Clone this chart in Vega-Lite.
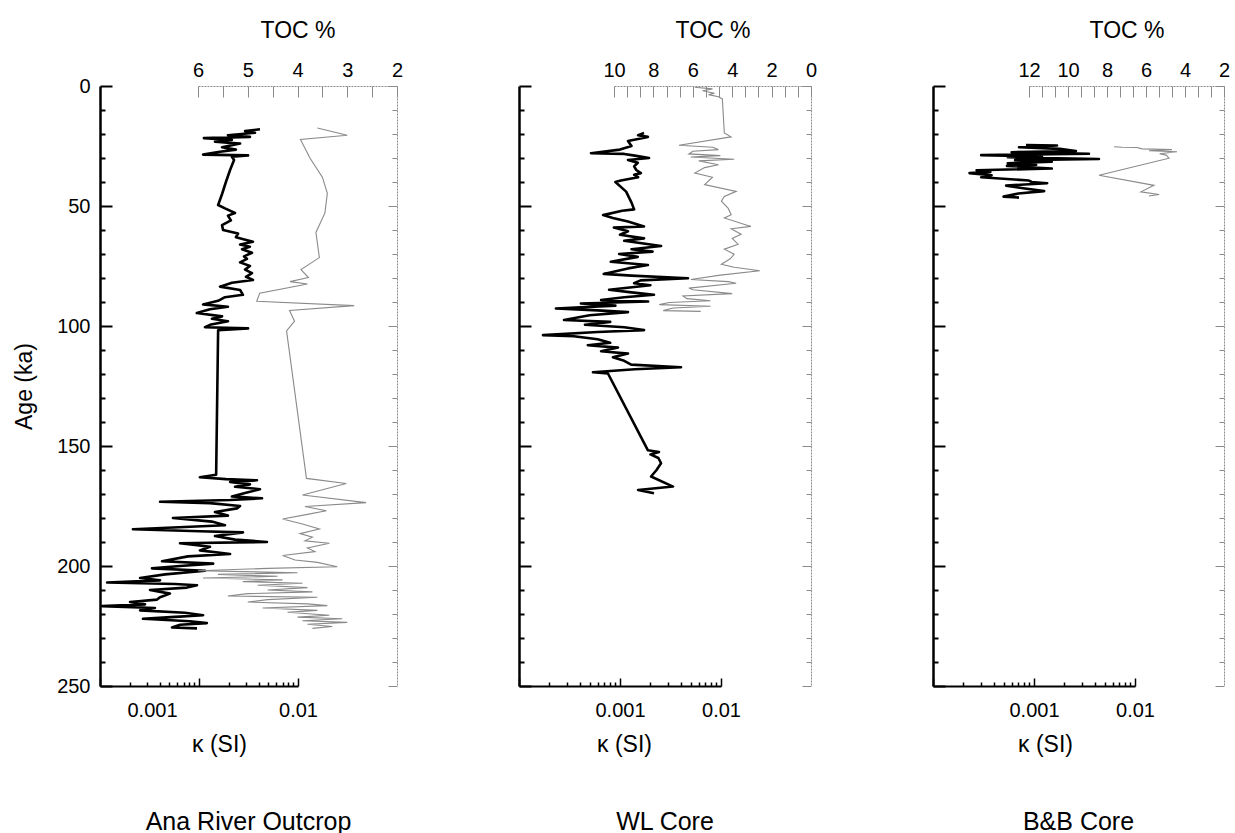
{
  "$schema": "https://vega.github.io/schema/vega-lite/v6.json",
  "background": "white",
  "autosize": {"type": "none"},
  "padding": {"left": 100, "top": 86, "right": 1135, "bottom": 747},
  "config": {
    "font": "Liberation Sans",
    "view": {"stroke": null},
    "axis": {"grid": false, "labelFont": "Liberation Sans", "titleFont": "Liberation Sans", "labelColor": "black", "titleColor": "black", "titleFontWeight": "normal", "labelFontSize": 20, "titleFontSize": 23, "labelFlush": false, "labelOverlap": false},
    "title": {"font": "Liberation Sans", "fontWeight": "normal", "fontSize": 25, "color": "black"}
  },
  "datasets": {
    "ana_k": [
      {"age":18.0,"kappa":0.00413},{"age":18.8,"kappa":0.00292},{"age":19.5,"kappa":0.00368},{"age":20.5,"kappa":0.00196},{"age":21.2,"kappa":0.00327},{"age":21.7,"kappa":0.00112},{"age":22.5,"kappa":0.00215},{"age":23.2,"kappa":0.00145},{"age":24.0,"kappa":0.0026},{"age":25.5,"kappa":0.00171},{"age":26.5,"kappa":0.00236},{"age":27.5,"kappa":0.00156},{"age":28.6,"kappa":0.0011},{"age":28.9,"kappa":0.00313},{"age":29.5,"kappa":0.00215},{"age":30.8,"kappa":0.00226},
      {"age":35,"kappa":0.00206},{"age":40,"kappa":0.00187},{"age":45,"kappa":0.00171},{"age":49.6,"kappa":0.00156},{"age":51,"kappa":0.00183},{"age":52.9,"kappa":0.00231},{"age":54,"kappa":0.00196},{"age":56,"kappa":0.0021},{"age":58,"kappa":0.00171},{"age":60,"kappa":0.00175},{"age":61.5,"kappa":0.00248},{"age":63,"kappa":0.00236},{"age":64.9,"kappa":0.00351},{"age":66,"kappa":0.0026},{"age":67,"kappa":0.00327},{"age":68,"kappa":0.00272},{"age":69.5,"kappa":0.00343},{"age":71,"kappa":0.00285},{"age":72,"kappa":0.00305},{"age":73.5,"kappa":0.0026},{"age":75,"kappa":0.00327},{"age":76.5,"kappa":0.00292},{"age":78,"kappa":0.00343},{"age":79.5,"kappa":0.00298},{"age":80.8,"kappa":0.00351},
      {"age":82,"kappa":0.00215},{"age":83.6,"kappa":0.00163},{"age":85,"kappa":0.0026},{"age":87,"kappa":0.00278},{"age":88,"kappa":0.00183},{"age":89.5,"kappa":0.00156},{"age":91,"kappa":0.0011},{"age":92,"kappa":0.00196},{"age":93,"kappa":0.00129},{"age":94.6,"kappa":0.00095},{"age":96,"kappa":0.00171},{"age":97,"kappa":0.00135},{"age":98,"kappa":0.00196},{"age":99.5,"kappa":0.00129},{"age":100.5,"kappa":0.00115},{"age":101,"kappa":0.00313},{"age":101.8,"kappa":0.00156},
      {"age":162,"kappa":0.00149},{"age":163,"kappa":0.00102},{"age":163.8,"kappa":0.00187},{"age":164.3,"kappa":0.00385},{"age":165,"kappa":0.00206},{"age":166,"kappa":0.00327},{"age":167,"kappa":0.00231},{"age":168,"kappa":0.00413},{"age":169.6,"kappa":0.00292},{"age":171,"kappa":0.00215},{"age":171.8,"kappa":0.00433},{"age":172.5,"kappa":0.00206},{"age":173.2,"kappa":0.000404},{"age":173.8,"kappa":0.00129},{"age":175,"kappa":0.0026},{"age":176,"kappa":0.00242},{"age":177.5,"kappa":0.00145},{"age":179,"kappa":0.00196},{"age":180,"kappa":0.000546},{"age":181.5,"kappa":0.00135},{"age":183,"kappa":0.00183},{"age":184.7,"kappa":0.000215},{"age":185.5,"kappa":0.00102},{"age":186,"kappa":0.00278},{"age":187.5,"kappa":0.00145},{"age":189,"kappa":0.00231},{"age":190,"kappa":0.00486},{"age":190.5,"kappa":0.000643},{"age":192,"kappa":0.00129},{"age":193.5,"kappa":0.00102},{"age":195,"kappa":0.00206},{"age":196,"kappa":0.000774},{"age":198,"kappa":0.000423},{"age":199,"kappa":0.00139},{"age":200,"kappa":0.000643},{"age":201,"kappa":0.000335},{"age":202,"kappa":0.00115},{"age":203.5,"kappa":0.000454},{"age":205,"kappa":0.000254},{"age":206,"kappa":0.000404},{"age":206.9,"kappa":0.000118},{"age":207.5,"kappa":0.000572},{"age":208,"kappa":0.000955},{"age":209,"kappa":0.000756},{"age":210,"kappa":0.00032},{"age":211.5,"kappa":0.000509},{"age":213,"kappa":0.000404},{"age":214,"kappa":0.000377},{"age":215,"kappa":0.000201},{"age":216,"kappa":0.000285},{"age":216.7,"kappa":0.000105},{"age":217.5,"kappa":0.000359},{"age":218.5,"kappa":0.000254},{"age":219.5,"kappa":0.000722},{"age":220.5,"kappa":0.0011},{"age":221.2,"kappa":0.000572},{"age":222,"kappa":0.000272},{"age":223,"kappa":0.000811},{"age":223.8,"kappa":0.0012},{"age":224.5,"kappa":0.000643},{"age":225.6,"kappa":0.000534},{"age":226,"kappa":0.000955}
    ],
    "ana_toc": [
      {"age":17.5,"toc":3.6},{"age":20.5,"toc":3.0},{"age":22.3,"toc":3.94},{"age":30,"toc":3.75},{"age":38,"toc":3.5},{"age":44.7,"toc":3.4},{"age":53,"toc":3.45},{"age":61,"toc":3.63},{"age":71.5,"toc":3.56},{"age":76.5,"toc":3.93},{"age":79.8,"toc":3.78},{"age":81.5,"toc":4.15},{"age":82.5,"toc":3.8},{"age":86.3,"toc":4.76},{"age":89.7,"toc":4.82},{"age":91.5,"toc":2.86},{"age":93.5,"toc":4.16},{"age":98,"toc":4.06},{"age":102,"toc":4.22},
      {"age":163.5,"toc":3.82},{"age":165.6,"toc":3.02},{"age":170.4,"toc":3.9},{"age":173.6,"toc":2.62},{"age":175.2,"toc":3.85},{"age":177,"toc":3.42},{"age":178.5,"toc":3.8},{"age":180.4,"toc":4.3},{"age":182.5,"toc":3.9},{"age":184.6,"toc":3.56},{"age":186.5,"toc":3.95},{"age":188,"toc":3.7},{"age":189.5,"toc":3.85},{"age":190.5,"toc":3.36},{"age":192.5,"toc":3.8},{"age":194,"toc":3.65},{"age":195.6,"toc":4.3},{"age":197.5,"toc":4.05},{"age":198.5,"toc":3.6},{"age":200.3,"toc":3.2},{"age":201,"toc":4.6},{"age":202,"toc":6.0},{"age":202.8,"toc":4.0},{"age":203.5,"toc":5.6},{"age":204.3,"toc":4.4},{"age":205,"toc":5.9},{"age":205.8,"toc":4.3},{"age":206.5,"toc":5.1},{"age":207.2,"toc":3.9},{"age":208,"toc":4.8},{"age":209,"toc":3.8},{"age":210,"toc":4.6},{"age":210.8,"toc":3.7},{"age":211.5,"toc":5.0},{"age":212.5,"toc":5.4},{"age":213,"toc":3.6},{"age":214,"toc":4.6},{"age":215,"toc":5.0},{"age":215.8,"toc":3.8},{"age":216.5,"toc":3.4},{"age":217.5,"toc":4.7},{"age":218.5,"toc":3.6},{"age":219.3,"toc":4.2},{"age":220.5,"toc":3.36},{"age":221.3,"toc":4.0},{"age":222,"toc":3.1},{"age":222.8,"toc":3.9},{"age":223.5,"toc":3.0},{"age":224.3,"toc":3.8},{"age":225.2,"toc":3.3},{"age":226,"toc":3.7}
    ],
    "wl_k": [
      {"age":19.6,"kappa":0.00173},{"age":20.5,"kappa":0.00151},{"age":21.2,"kappa":0.00189},{"age":22.0,"kappa":0.00155},{"age":22.9,"kappa":0.0012},{"age":25,"kappa":0.0013},{"age":26.5,"kappa":0.001},{"age":28.0,"kappa":0.000516},{"age":28.3,"kappa":0.0011},{"age":29,"kappa":0.0014},{"age":30,"kappa":0.00194},{"age":30.8,"kappa":0.0012},{"age":32,"kappa":0.0015},{"age":33.5,"kappa":0.00138},{"age":35,"kappa":0.00145},{"age":36.3,"kappa":0.00161},{"age":37,"kappa":0.00138},{"age":38,"kappa":0.00151},{"age":39.4,"kappa":0.00102},{"age":40,"kappa":0.0009},{"age":44,"kappa":0.00115},{"age":48.6,"kappa":0.0013},{"age":51.4,"kappa":0.00138},{"age":52,"kappa":0.00105},{"age":53.8,"kappa":0.00068},{"age":55,"kappa":0.00085},{"age":56.5,"kappa":0.0012},{"age":58.5,"kappa":0.00173},{"age":59,"kappa":0.00087},{"age":60.5,"kappa":0.0012},{"age":62,"kappa":0.001},{"age":63.5,"kappa":0.00173},{"age":64.5,"kappa":0.0011},{"age":66.7,"kappa":0.00255},{"age":68,"kappa":0.0013},{"age":69,"kappa":0.0021},{"age":70,"kappa":0.00098},{"age":71.2,"kappa":0.0015},{"age":73.2,"kappa":0.00081},{"age":74.6,"kappa":0.00189},{"age":76,"kappa":0.0012},{"age":78.3,"kappa":0.00069},{"age":79,"kappa":0.0013},{"age":80.1,"kappa":0.00471},{"age":81,"kappa":0.0016},{"age":82.2,"kappa":0.00138},{"age":83,"kappa":0.002},{"age":84.9,"kappa":0.00078},{"age":86,"kappa":0.0013},{"age":87,"kappa":0.00217},{"age":88,"kappa":0.0011},{"age":89.2,"kappa":0.00065},{"age":89.8,"kappa":0.0019},{"age":90.6,"kappa":0.00041},{"age":91.5,"kappa":0.0009},{"age":92.7,"kappa":0.000232},{"age":93.5,"kappa":0.0006},{"age":94.2,"kappa":0.0012},{"age":95.5,"kappa":0.0005},{"age":97.5,"kappa":0.000279},{"age":98.3,"kappa":0.0008},{"age":99.5,"kappa":0.00045},{"age":100.5,"kappa":0.0011},{"age":101.7,"kappa":0.00173},{"age":102.5,"kappa":0.0006},{"age":103.8,"kappa":0.000173},{"age":104.3,"kappa":0.00035},{"age":105.5,"kappa":0.0006},{"age":107,"kappa":0.0008},{"age":108,"kappa":0.00048},{"age":109,"kappa":0.000955},{"age":110.5,"kappa":0.00065},{"age":111.5,"kappa":0.0012},{"age":113,"kappa":0.00085},{"age":114.5,"kappa":0.0011},{"age":116.1,"kappa":0.00129},{"age":117.2,"kappa":0.00402},{"age":118,"kappa":0.0014},{"age":119.3,"kappa":0.00054},{"age":119.8,"kappa":0.00076},{"age":151.8,"kappa":0.00189},{"age":152.5,"kappa":0.00243},{"age":153.5,"kappa":0.002},{"age":155,"kappa":0.0024},{"age":157.2,"kappa":0.00255},{"age":160,"kappa":0.0023},{"age":162.7,"kappa":0.00203},{"age":166.9,"kappa":0.00335},{"age":168.3,"kappa":0.00151},{"age":169.7,"kappa":0.00217}
    ],
    "wl_toc": [
      {"age":0.5,"toc":5.9},{"age":1.2,"toc":5.0},{"age":2.0,"toc":5.5},{"age":3.0,"toc":4.9},{"age":3.6,"toc":5.2},{"age":4.5,"toc":4.7},{"age":5.4,"toc":4.5},{"age":19.6,"toc":4.4},{"age":21.2,"toc":4.06},{"age":24.7,"toc":6.7},{"age":25.5,"toc":5.0},{"age":26.5,"toc":4.7},{"age":27.2,"toc":6.0},{"age":28.3,"toc":6.2},{"age":29,"toc":4.6},{"age":29.6,"toc":6.1},{"age":30.5,"toc":3.9},{"age":31.2,"toc":5.7},{"age":32.8,"toc":4.7},{"age":34,"toc":5.4},{"age":36.3,"toc":5.9},{"age":38,"toc":5.0},{"age":41.1,"toc":5.4},{"age":43.9,"toc":3.8},{"age":46,"toc":4.4},{"age":48,"toc":4.55},{"age":51,"toc":4.2},{"age":53.6,"toc":4.05},{"age":55,"toc":4.4},{"age":58.5,"toc":3.05},{"age":59.5,"toc":4.05},{"age":61.8,"toc":3.55},{"age":63.5,"toc":4.0},{"age":65.9,"toc":3.7},{"age":68,"toc":4.4},{"age":70.1,"toc":3.9},{"age":72,"toc":4.1},{"age":74.3,"toc":4.55},{"age":75.5,"toc":3.9},{"age":77,"toc":2.6},{"age":78.8,"toc":4.6},{"age":80.6,"toc":6.1},{"age":81.5,"toc":4.2},{"age":82.2,"toc":3.8},{"age":84.2,"toc":6.2},{"age":84.9,"toc":6.0},{"age":86.5,"toc":4.0},{"age":87.5,"toc":6.5},{"age":88.6,"toc":6.3},{"age":89.5,"toc":5.1},{"age":90.2,"toc":7.2},{"age":91.1,"toc":7.7},{"age":91.8,"toc":5.1},{"age":92.5,"toc":7.0},{"age":93.6,"toc":7.5},{"age":93.9,"toc":5.6}
    ],
    "bb_k": [
      {"age":24.6,"kappa":0.000833},{"age":24.8,"kappa":0.00169},{"age":25.5,"kappa":0.00071},{"age":26.2,"kappa":0.0018},{"age":27.1,"kappa":0.0026},{"age":27.6,"kappa":0.0006},{"age":28.2,"kappa":0.0035},{"age":28.8,"kappa":0.0003},{"age":29.3,"kappa":0.0012},{"age":29.7,"kappa":0.00055},{"age":30.4,"kappa":0.0044},{"age":30.9,"kappa":0.00065},{"age":31.5,"kappa":0.0015},{"age":32.2,"kappa":0.00055},{"age":32.8,"kappa":0.00105},{"age":33.3,"kappa":0.00054},{"age":34.4,"kappa":0.0015},{"age":35.1,"kappa":0.00027},{"age":35.8,"kappa":0.00037},{"age":36.3,"kappa":0.00023},{"age":37.2,"kappa":0.00038},{"age":38.0,"kappa":0.0003},{"age":39.4,"kappa":0.00089},{"age":40.0,"kappa":0.00095},{"age":40.5,"kappa":0.00135},{"age":41.5,"kappa":0.00053},{"age":42.5,"kappa":0.00075},{"age":43.8,"kappa":0.00126},{"age":44.8,"kappa":0.0007},{"age":46.1,"kappa":0.0005},{"age":46.5,"kappa":0.00071}
    ],
    "bb_toc": [
      {"age":25.3,"toc":7.64},{"age":25.5,"toc":7.23},{"age":25.6,"toc":6.46},{"age":26.2,"toc":6.2},{"age":26.5,"toc":4.67},{"age":27,"toc":5.85},{"age":27.4,"toc":4.41},{"age":28.2,"toc":5.3},{"age":28.8,"toc":4.97},{"age":30.1,"toc":4.82},{"age":37.2,"toc":8.41},{"age":41.4,"toc":5.59},{"age":44.1,"toc":6.26},{"age":45.2,"toc":5.33},{"age":45.8,"toc":5.85}
    ]
  },
  "spacing": 122,
  "bounds": "flush",
  "hconcat": [
    {
      "width": 297, "height": 600,
      "title": {"text": "Ana River Outcrop", "orient": "bottom", "offset": 54},
      "layer": [
        {
          "data": {"name": "ana_k"},
          "mark": {"type": "line", "color": "black", "strokeWidth": 2.6, "strokeJoin": "round"},
          "encoding": {
            "x": {"field": "kappa", "type": "quantitative", "scale": {"type": "log", "domain": [0.0001, 0.01], "range": [0, 198], "nice": false},
              "axis": {"orient": "bottom", "title": "κ (SI)", "titleX": 119, "values": [0.0001,0.0002,0.0003,0.0004,0.0005,0.0006,0.0007,0.0008,0.0009,0.001,0.002,0.003,0.004,0.005,0.006,0.007,0.008,0.009,0.01],
                "labelExpr": "datum.value === 0.001 ? '0.001' : (datum.value === 0.01 ? '0.01' : '')",
                "labelOffset": {"condition": {"test": "datum.value === 0.001", "value": -47}, "value": 0},
                "tickSize": {"condition": {"test": "datum.value === 0.001 || datum.value === 0.01 || datum.value === 0.0001", "value": -8}, "value": -4},
                "domainColor": "black", "domainWidth": 2, "tickColor": "black", "tickWidth": 1.5, "labelPadding": 22, "titlePadding": 9}},
            "y": {"field": "age", "type": "quantitative", "scale": {"domain": [0, 250], "reverse": true, "nice": false, "zero": false},
              "axis": {"orient": "left", "title": "Age (ka)", "values": [0,10,20,30,40,50,60,70,80,90,100,110,120,130,140,150,160,170,180,190,200,210,220,230,240,250],
                "labelExpr": "datum.value % 50 === 0 ? datum.label : ''",
                "tickSize": {"condition": {"test": "datum.value % 50 === 0", "value": -12}, "value": -5},
                "domainColor": "black", "domainWidth": 2.5, "tickColor": "black", "tickWidth": 2, "labelPadding": 22, "titlePadding": 20}},
            "order": {"field": "age", "type": "quantitative"}
          }
        },
        {
          "data": {"name": "ana_toc"},
          "mark": {"type": "line", "color": "#8a8a8a", "strokeWidth": 1.1},
          "encoding": {
            "x": {"field": "toc", "type": "quantitative", "scale": {"domain": [6, 2], "range": [98, 297], "nice": false, "zero": false},
              "axis": {"orient": "top", "title": "TOC %", "values": [6,5.5,5,4.5,4,3.5,3,2.5,2],
                "labelExpr": "datum.value % 1 === 0 ? format(datum.value, 'd') : ''",
                "tickSize": -11, "domainColor": "#8a8a8a", "domainDash": [2, 1], "domainWidth": 1, "tickColor": "#8a8a8a", "tickWidth": 1, "labelPadding": 17, "titlePadding": 18}},
            "y": {"field": "age", "type": "quantitative", "scale": {"domain": [0, 250], "reverse": true, "nice": false, "zero": false},
              "axis": {"orient": "right", "title": null, "labels": false, "values": [0,10,20,30,40,50,60,70,80,90,100,110,120,130,140,150,160,170,180,190,200,210,220,230,240,250],
                "tickSize": {"condition": {"test": "datum.value % 50 === 0", "value": -9}, "value": -5},
                "domainColor": "#8a8a8a", "domainDash": [2, 1], "domainWidth": 1, "tickColor": "#8a8a8a", "tickWidth": 1}},
            "order": {"field": "age", "type": "quantitative"}
          }
        }
      ],
      "resolve": {"scale": {"x": "independent", "y": "independent"}, "axis": {"x": "independent", "y": "independent"}}
    },
    {
      "width": 292, "height": 600,
      "title": {"text": "WL Core", "orient": "bottom", "offset": 54},
      "layer": [
        {
          "data": {"name": "wl_k"},
          "mark": {"type": "line", "color": "black", "strokeWidth": 2.6, "strokeJoin": "round"},
          "encoding": {
            "x": {"field": "kappa", "type": "quantitative", "scale": {"type": "log", "domain": [0.0001, 0.01], "range": [0, 202], "nice": false},
              "axis": {"orient": "bottom", "title": "κ (SI)", "titleX": 105, "values": [0.0001,0.0002,0.0003,0.0004,0.0005,0.0006,0.0007,0.0008,0.0009,0.001,0.002,0.003,0.004,0.005,0.006,0.007,0.008,0.009,0.01],
                "labelExpr": "datum.value === 0.001 ? '0.001' : (datum.value === 0.01 ? '0.01' : '')",
                "tickSize": {"condition": {"test": "datum.value === 0.001 || datum.value === 0.01 || datum.value === 0.0001", "value": -8}, "value": -4},
                "domainColor": "black", "domainWidth": 2, "tickColor": "black", "tickWidth": 1.5, "labelPadding": 22, "titlePadding": 9}},
            "y": {"field": "age", "type": "quantitative", "scale": {"domain": [0, 250], "reverse": true, "nice": false, "zero": false},
              "axis": {"orient": "left", "title": null, "labels": false, "values": [0,10,20,30,40,50,60,70,80,90,100,110,120,130,140,150,160,170,180,190,200,210,220,230,240,250],
                "tickSize": {"condition": {"test": "datum.value % 50 === 0", "value": -12}, "value": -5},
                "domainColor": "black", "domainWidth": 2.5, "tickColor": "black", "tickWidth": 2}},
            "order": {"field": "age", "type": "quantitative"}
          }
        },
        {
          "data": {"name": "wl_toc"},
          "mark": {"type": "line", "color": "#8a8a8a", "strokeWidth": 1.1},
          "encoding": {
            "x": {"field": "toc", "type": "quantitative", "scale": {"domain": [10, 0], "range": [95, 292], "nice": false, "zero": false},
              "axis": {"orient": "top", "title": "TOC %", "values": [10,9.3333,8.6667,8,7.3333,6.6667,6,5.3333,4.6667,4,3.3333,2.6667,2,1.3333,0.6667,0],
                "labelExpr": "datum.value % 2 === 0 ? format(datum.value, 'd') : ''",
                "tickSize": -11, "domainColor": "#8a8a8a", "domainDash": [2, 1], "domainWidth": 1, "tickColor": "#8a8a8a", "tickWidth": 1, "labelPadding": 17, "titlePadding": 18}},
            "y": {"field": "age", "type": "quantitative", "scale": {"domain": [0, 250], "reverse": true, "nice": false, "zero": false},
              "axis": {"orient": "right", "title": null, "labels": false, "values": [0,10,20,30,40,50,60,70,80,90,100,110,120,130,140,150,160,170,180,190,200,210,220,230,240,250],
                "tickSize": {"condition": {"test": "datum.value % 50 === 0", "value": -9}, "value": -5},
                "domainColor": "#8a8a8a", "domainDash": [2, 1], "domainWidth": 1, "tickColor": "#8a8a8a", "tickWidth": 1}},
            "order": {"field": "age", "type": "quantitative"}
          }
        }
      ],
      "resolve": {"scale": {"x": "independent", "y": "independent"}, "axis": {"x": "independent", "y": "independent"}}
    },
    {
      "width": 291, "height": 600,
      "title": {"text": "B&B Core", "orient": "bottom", "offset": 54},
      "layer": [
        {
          "data": {"name": "bb_k"},
          "mark": {"type": "line", "color": "black", "strokeWidth": 2.6, "strokeJoin": "round"},
          "encoding": {
            "x": {"field": "kappa", "type": "quantitative", "scale": {"type": "log", "domain": [0.0001, 0.01], "range": [0, 202], "nice": false},
              "axis": {"orient": "bottom", "title": "κ (SI)", "titleX": 112, "values": [0.0001,0.0002,0.0003,0.0004,0.0005,0.0006,0.0007,0.0008,0.0009,0.001,0.002,0.003,0.004,0.005,0.006,0.007,0.008,0.009,0.01],
                "labelExpr": "datum.value === 0.001 ? '0.001' : (datum.value === 0.01 ? '0.01' : '')",
                "tickSize": {"condition": {"test": "datum.value === 0.001 || datum.value === 0.01 || datum.value === 0.0001", "value": -8}, "value": -4},
                "domainColor": "black", "domainWidth": 2, "tickColor": "black", "tickWidth": 1.5, "labelPadding": 22, "titlePadding": 9}},
            "y": {"field": "age", "type": "quantitative", "scale": {"domain": [0, 250], "reverse": true, "nice": false, "zero": false},
              "axis": {"orient": "left", "title": null, "labels": false, "values": [0,10,20,30,40,50,60,70,80,90,100,110,120,130,140,150,160,170,180,190,200,210,220,230,240,250],
                "tickSize": {"condition": {"test": "datum.value % 50 === 0", "value": -12}, "value": -5},
                "domainColor": "black", "domainWidth": 2.5, "tickColor": "black", "tickWidth": 2}},
            "order": {"field": "age", "type": "quantitative"}
          }
        },
        {
          "data": {"name": "bb_toc"},
          "mark": {"type": "line", "color": "#8a8a8a", "strokeWidth": 1.1},
          "encoding": {
            "x": {"field": "toc", "type": "quantitative", "scale": {"domain": [12, 2], "range": [96, 291], "nice": false, "zero": false},
              "axis": {"orient": "top", "title": "TOC %", "values": [12,11.3333,10.6667,10,9.3333,8.6667,8,7.3333,6.6667,6,5.3333,4.6667,4,3.3333,2.6667,2],
                "labelExpr": "datum.value % 2 === 0 ? format(datum.value, 'd') : ''",
                "tickSize": -11, "domainColor": "#8a8a8a", "domainDash": [2, 1], "domainWidth": 1, "tickColor": "#8a8a8a", "tickWidth": 1, "labelPadding": 17, "titlePadding": 18}},
            "y": {"field": "age", "type": "quantitative", "scale": {"domain": [0, 250], "reverse": true, "nice": false, "zero": false},
              "axis": {"orient": "right", "title": null, "labels": false, "values": [0,10,20,30,40,50,60,70,80,90,100,110,120,130,140,150,160,170,180,190,200,210,220,230,240,250],
                "tickSize": {"condition": {"test": "datum.value % 50 === 0", "value": -9}, "value": -5},
                "domainColor": "#8a8a8a", "domainDash": [2, 1], "domainWidth": 1, "tickColor": "#8a8a8a", "tickWidth": 1}},
            "order": {"field": "age", "type": "quantitative"}
          }
        }
      ],
      "resolve": {"scale": {"x": "independent", "y": "independent"}, "axis": {"x": "independent", "y": "independent"}}
    }
  ]
}
